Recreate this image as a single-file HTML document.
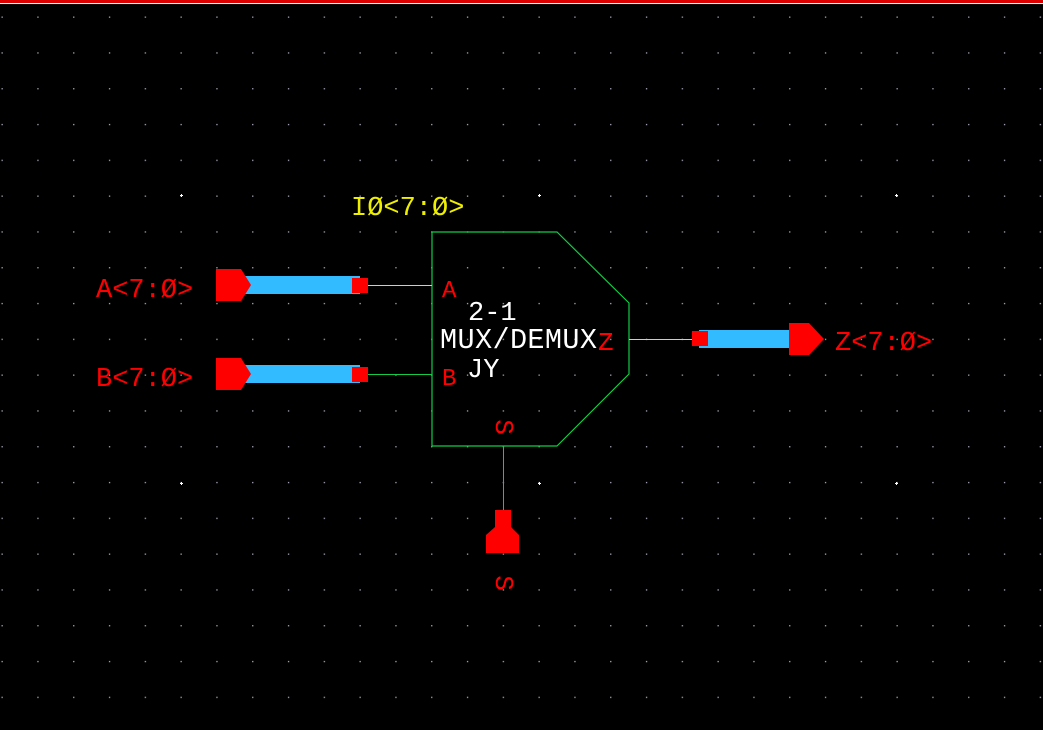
<!DOCTYPE html>
<html><head><style>
html,body{margin:0;padding:0;background:#000;width:1043px;height:730px;overflow:hidden}
svg{display:block}
text{font-family:"Liberation Mono",monospace}
</style></head><body>
<svg width="1043" height="730" viewBox="0 0 1043 730" xmlns="http://www.w3.org/2000/svg">
<defs>
<pattern id="g" x="1.5" y="16.5" width="35.8" height="35.8" patternUnits="userSpaceOnUse">
<rect x="0" y="0" width="1.3" height="1.3" fill="#aab"/>
</pattern>
</defs>
<rect width="1043" height="730" fill="#000"/>
<rect width="1043" height="730" fill="url(#g)"/>
<rect x="0" y="0" width="1043" height="3" fill="#d00"/>
<rect x="0" y="3" width="1043" height="1" fill="#fff"/>
<g fill="#fff">
<rect x="180" y="195" width="3" height="1"/><rect x="181" y="194" width="1" height="3"/>
<rect x="538" y="195" width="3" height="1"/><rect x="539" y="194" width="1" height="3"/>
<rect x="895" y="195" width="3" height="1"/><rect x="896" y="194" width="1" height="3"/>
<rect x="180" y="483" width="3" height="1"/><rect x="181" y="482" width="1" height="3"/>
<rect x="538" y="483" width="3" height="1"/><rect x="539" y="482" width="1" height="3"/>
<rect x="895" y="483" width="3" height="1"/><rect x="896" y="482" width="1" height="3"/>
</g>
<polygon points="432,232 557,232 629,303 629,374 557,446 432,446" fill="none" stroke="#1c4" stroke-width="1.2"/>
<line x1="368" y1="285.5" x2="432" y2="285.5" stroke="#ccc" stroke-width="1"/>
<line x1="368" y1="374.5" x2="432" y2="374.5" stroke="#1c4" stroke-width="1"/>
<line x1="629" y1="339.5" x2="692" y2="339.5" stroke="#ccc" stroke-width="1"/>
<line x1="503.5" y1="446" x2="503.5" y2="510" stroke="#1c4" stroke-width="1"/>
<rect x="241" y="276" width="119" height="18" fill="#3bf"/>
<polygon points="216,269 241,269 251,285 241,301 216,301" fill="#f00"/>
<rect x="352" y="278" width="16" height="15" fill="#f00"/>
<rect x="241" y="365" width="119" height="18" fill="#3bf"/>
<polygon points="216,358 241,358 251,374 241,390 216,390" fill="#f00"/>
<rect x="352" y="367" width="16" height="15" fill="#f00"/>
<rect x="699" y="330" width="92" height="18" fill="#3bf"/>
<polygon points="789,323 809,323 824,339 809,355 789,355" fill="#f00"/>
<rect x="692" y="331" width="16" height="15" fill="#f00"/>
<polygon points="495,510 511,510 511,527 519,535 519,553 486,553 486,535 495,527" fill="#f00"/>
<text x="96" y="297" font-size="27" fill="#f00">A&lt;7:Ø&gt;</text>
<text x="96" y="386" font-size="27" fill="#f00">B&lt;7:Ø&gt;</text>
<text x="835" y="350" font-size="27" fill="#f00">Z&lt;7:Ø&gt;</text>
<text x="351" y="215" font-size="27" fill="#ee0">IØ&lt;7:Ø&gt;</text>
<text x="442" y="297" font-size="24" fill="#f00">A</text>
<text x="442" y="385" font-size="24" fill="#f00">B</text>
<text x="598" y="350" font-size="26" fill="#f00">Z</text>
<text x="468" y="320" font-size="27" fill="#fff">2-1</text>
<text x="440" y="348" font-size="28.5" fill="#fff" textLength="157">MUX/DEMUX</text>
<text x="467" y="377" font-size="27" fill="#fff">JY</text>
<text transform="translate(503,427) rotate(90)" font-size="26" fill="#f00" text-anchor="middle" dominant-baseline="central">S</text>
<text transform="translate(503,583) rotate(90)" font-size="26" fill="#f00" text-anchor="middle" dominant-baseline="central">S</text>
</svg>
</body></html>
